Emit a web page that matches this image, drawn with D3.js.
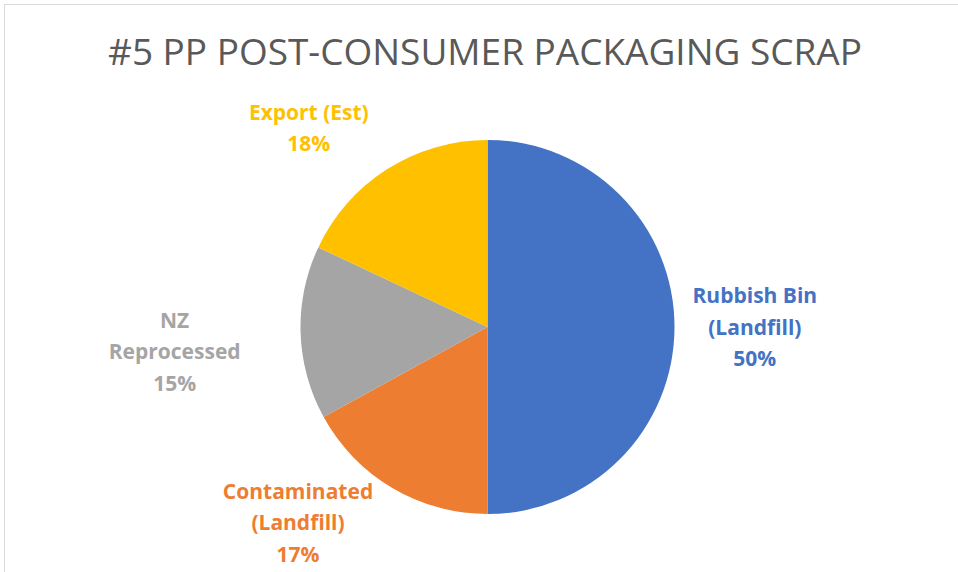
<!DOCTYPE html>
<html>
<head>
<meta charset="utf-8">
<script src="https://cdn.jsdelivr.net/npm/d3@7"></script>
<style>
  html, body { margin: 0; padding: 0; background: #fff; }
  svg { display: block; }
</style>
</head>
<body>
<svg id="chart" width="958" height="572"></svg>
<script>
// chart data
const categories = ["Rubbish Bin (Landfill)", "Contaminated (Landfill)", "NZ Reprocessed", "Export (Est)"];
const labelLines = [["Rubbish Bin", "(Landfill)"], ["Contaminated", "(Landfill)"], ["NZ", "Reprocessed"], ["Export (Est)"]];
const shares = [50, 17, 15, 18];
const sliceColors = ["#4472C4", "#ED7D31", "#A5A5A5", "#FFC000"];
const title = "#5 PP POST-CONSUMER PACKAGING SCRAP";

// label drag offsets, as moved by hand in the original
const labelNudge = [[2, 0], [-11, 0], [-44, 14], [-10, 4]];

const width = 958, height = 572;
const cx = 487.5, cy = 327, radius = 187;
const lineH = 31.5;

const svg = d3.select("#chart");

// chart area border (runs off the right and bottom of the picture)
svg.append("rect")
  .attr("x", 4.5).attr("y", 4.5)
  .attr("width", 970).attr("height", 600)
  .attr("fill", "#fff")
  .attr("stroke", "#D9D9D9")
  .attr("stroke-width", 1);

svg.append("text")
  .attr("x", 485).attr("y", 65)
  .attr("text-anchor", "middle")
  .attr("font-family", "Open Sans, sans-serif")
  .attr("font-size", 37)
  .attr("textLength", 754)
  .attr("lengthAdjust", "spacingAndGlyphs")
  .attr("fill", "#595959")
  .text(title);

const pie = d3.pie().sort(null).value(d => d);
const arcs = pie(shares);
const arc = d3.arc().innerRadius(0).outerRadius(radius);

const g = svg.append("g").attr("transform", "translate(" + cx + "," + cy + ")");

g.selectAll("path.slice")
  .data(arcs)
  .enter().append("path")
  .attr("class", "slice")
  .attr("d", arc)
  .attr("fill", (d, i) => sliceColors[i]);

// outside-end labels
const clamp = v => Math.max(-1, Math.min(1, v));
arcs.forEach((d, i) => {
  const a = (d.startAngle + d.endAngle) / 2;
  const dx = Math.sin(a), dy = -Math.cos(a);
  const lines = labelLines[i].concat([d3.format(".0%")(shares[i] / 100)]);

  const t = g.append("text")
    .attr("text-anchor", "middle")
    .attr("font-family", "Open Sans, sans-serif")
    .attr("font-weight", "bold")
    .attr("font-size", 21)
    .attr("fill", sliceColors[i]);
  lines.forEach(l => t.append("tspan").text(l));

  let w = 0;
  t.selectAll("tspan").each(function () { w = Math.max(w, this.getComputedTextLength()); });
  const h = lines.length * lineH;

  const ar = radius + 16;
  let x = dx * ar + clamp(dx * 3) * w / 2;
  let y = dy * ar + clamp(dy * 3) * h / 2;
  // keep the box inside the chart area
  x = Math.max(8 - cx + w / 2, Math.min(width - 8 - cx - w / 2, x));
  y = Math.max(8 - cy + h / 2, Math.min(height - 2 - cy - h / 2, y));
  x += labelNudge[i][0];
  y += labelNudge[i][1];

  t.selectAll("tspan")
    .attr("x", x)
    .attr("y", (l, j) => y + (j - (lines.length - 1) / 2) * lineH + 7.5);
});
</script>
</body>
</html>
